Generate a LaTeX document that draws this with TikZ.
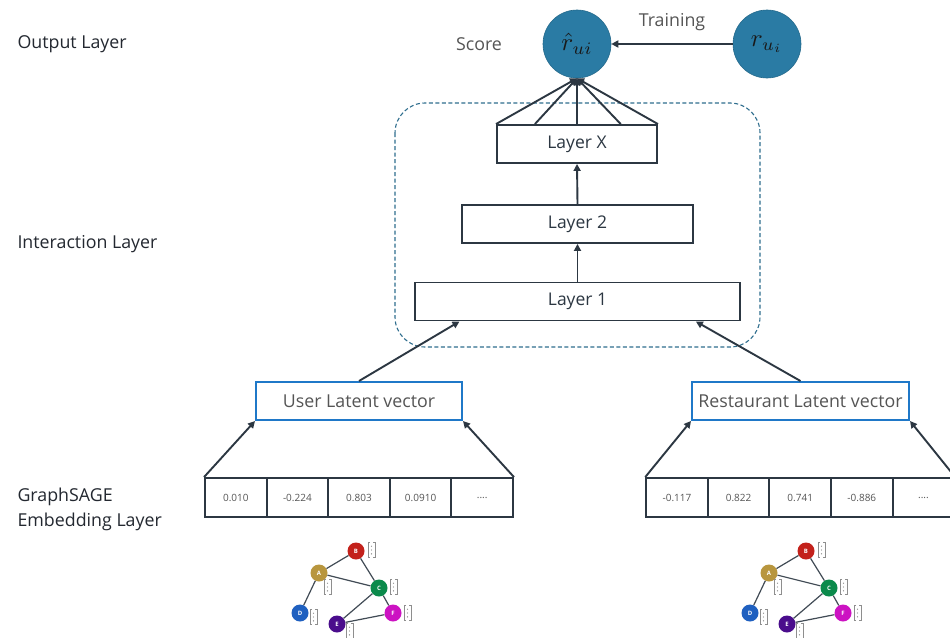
\documentclass[tikz,border=0pt]{standalone}
\usepackage{graphicx}
\usepackage{fontspec}
\setmainfont{Open Sans}
\usetikzlibrary{arrows.meta,calc}
\definecolor{ink}{HTML}{2C3742}
\definecolor{labeltxt}{HTML}{232830}
\definecolor{soft}{HTML}{555555}
\definecolor{ball}{HTML}{2A7BA4}
\definecolor{frame}{HTML}{2F6E8E}
\definecolor{latent}{HTML}{1F78C8}
\definecolor{bracketgray}{HTML}{8E8E8E}
\definecolor{gA}{HTML}{B8963E}
\definecolor{gB}{HTML}{C3211B}
\definecolor{gC}{HTML}{0B8A4B}
\definecolor{gD}{HTML}{1F60C0}
\definecolor{gE}{HTML}{4A0D8C}
\definecolor{gF}{HTML}{CC12C2}
\tikzset{
  sidelabel/.style={anchor=west,align=left,text=labeltxt,font=\fontsize{17.8}{25}\selectfont},
  layerbox/.style={draw=ink,line width=1.9pt,fill=white,minimum height=38pt,inner sep=0pt,
    text=ink,font=\fontsize{17.5}{20}\selectfont},
  latentbox/.style={draw=latent,line width=2pt,fill=white,minimum height=38pt,inner sep=0pt,
    text=soft,font=\fontsize{17.8}{20}\selectfont},
  cell/.style={draw=ink,line width=1.9pt,minimum width=61.6pt,minimum height=39pt,inner sep=0pt,
    text=soft,font=\fontsize{10}{12}\selectfont},
  scorenode/.style={circle,fill=ball,draw=ball!85!black,line width=0.6pt,minimum size=68pt,inner sep=0pt,
    text=black!90},
  conn/.style={draw=ink,line width=1.9pt},
  arr/.style={conn,-{Triangle[length=7pt,width=7pt]}},
  gnode/.style={circle,minimum size=17pt,inner sep=0pt,text=white,
    font=\fontsize{6}{6}\selectfont\bfseries},
  gedge/.style={draw=ink!90,line width=1.2pt},
  softtxt/.style={text=soft,font=\fontsize{17.8}{20}\selectfont},
  featvec/.pic={
    \draw[bracketgray,line width=0.9pt] (2,-7.5) -- (0,-7.5) -- (0,7.5) -- (2,7.5);
    \draw[bracketgray,line width=0.9pt] (5,-7.5) -- (7,-7.5) -- (7,7.5) -- (5,7.5);
    \fill[bracketgray] (3.5,-3.8) circle (0.7) (3.5,0) circle (0.7) (3.5,3.8) circle (0.7);
  }
}
% a small feature graph; #1 is the horizontal shift and the node name prefix
\newcommand{\smallgraph}[1]{%
  \begin{scope}[xshift=#1]
    \node[gnode,fill=gB] (g#1B) at (356,551) {B};
    \node[gnode,fill=gA] (g#1A) at (319,573) {A};
    \node[gnode,fill=gC] (g#1C) at (379,588) {C};
    \node[gnode,fill=gD] (g#1D) at (300,613) {D};
    \node[gnode,fill=gE] (g#1E) at (337,624) {E};
    \node[gnode,fill=gF] (g#1F) at (393,613) {F};
    \draw[gedge] (g#1A) -- (g#1B) (g#1A) -- (g#1C) (g#1B) -- (g#1C) (g#1A) -- (g#1D)
                 (g#1C) -- (g#1E) (g#1C) -- (g#1F) (g#1E) -- (g#1F);
    \pic at (368,550) {featvec};
    \pic at (324,587) {featvec};
    \pic at (390,587) {featvec};
    \pic at (310,617) {featvec};
    \pic at (404,613) {featvec};
    \pic at (346,631) {featvec};
  \end{scope}%
}
\begin{document}
\begin{tikzpicture}[x=1pt,y=-1pt]
  \useasboundingbox (0,0) rectangle (950,637);
  \clip (0,0) rectangle (950,637);
  \fill[white] (0,0) rectangle (950,637);

  % layer names on the left
  \node[sidelabel] (outlbl) at (14,44) {Output Layer};
  \node[sidelabel] (intlbl) at (14,244) {Interaction Layer};
  \node[sidelabel] (emblbl) at (14,509) {GraphSAGE\\Embedding Layer};

  % interaction block
  \draw[frame,line width=1.1pt,dash pattern=on 4pt off 2.5pt,rounded corners=30pt]
    (395,103) rectangle (760,347);
  \node[layerbox,minimum width=160pt] (lx) at (577,144) {Layer X};
  \node[layerbox,minimum width=231pt] (l2) at (577.5,224) {Layer 2};
  \node[layerbox,minimum width=325pt] (l1) at (577.5,301.5) {Layer 1};

  % output layer
  \node[scorenode] (rhat) at (577,44) {\scalebox{2.5}{$\hat{r}_{ui}$}};
  \node[scorenode] (ru) at (767,44) {\scalebox{2.5}{$r_{u_i}$}};
  \node[softtxt] (score) at (479,44) {Score};
  \node[softtxt] (train) at (672,22) {Training};
  \draw[arr] (ru) -- (rhat);

  % fan from Layer X into the score
  \draw[arr] (lx.north west) -- (rhat.south);
  \draw[arr] ($(lx.north west)!0.24!(lx.north east)$) -- (rhat.south);
  \draw[arr] (lx.north) -- (rhat.south);
  \draw[arr] ($(lx.north west)!0.77!(lx.north east)$) -- (rhat.south);
  \draw[arr] (lx.north east) -- (rhat.south);

  \draw[arr] (l2.north) -- (lx.south);
  \draw[arr] (l1.north) -- (l2.south);

  % latent vectors
  \node[latentbox,minimum width=206pt] (user) at (359,401) {User Latent vector};
  \node[latentbox,minimum width=217pt] (rest) at (800.5,401) {Restaurant Latent vector};
  \draw[arr] (user.north) -- ($(l1.south west)!0.139!(l1.south east)$);
  \draw[arr] (rest.north) -- ($(l1.south west)!0.862!(l1.south east)$);

  % embedding vectors
  \node[cell] (u1) at (235.8,497.5) {0.010};
  \node[cell] (u2) at (297.4,497.5) {-0.224};
  \node[cell] (u3) at (359.0,497.5) {0.803};
  \node[cell] (u4) at (420.6,497.5) {0.0910};
  \node[cell] (u5) at (482.2,497.5) {....};
  \node[cell] (r1) at (677.0,497.5) {-0.117};
  \node[cell] (r2) at (738.6,497.5) {0.822};
  \node[cell] (r3) at (800.2,497.5) {0.741};
  \node[cell] (r4) at (861.8,497.5) {-0.886};
  \node[cell] (r5) at (923.4,497.5) {....};

  \draw[arr] (u1.north west) -- (user.south west);
  \draw[arr] (u5.north east) -- (user.south east);
  \draw[arr] (r1.north west) -- (rest.south west);
  \draw[arr] (r5.north east) -- (rest.south east);

  % graphs
  \smallgraph{0}
  \smallgraph{450}
\end{tikzpicture}
\end{document}
